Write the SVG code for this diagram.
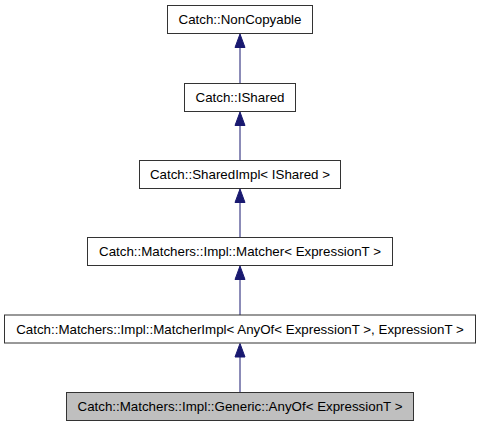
<svg xmlns="http://www.w3.org/2000/svg" width="480" height="427" viewBox="0 0 480 427">
<style>
.box{fill:#ffffff;stroke:#333333;stroke-width:1}
.hl{fill:#bfbfbf}
.lbl{font-family:"Liberation Sans",Arial,sans-serif;font-size:13.33px;fill:#000000;text-anchor:middle}
.edge{stroke:#191970;stroke-width:1;fill:none}
.head{fill:#191970;stroke:#191970;stroke-width:1}
</style>
<rect width="480" height="427" fill="#ffffff"/>
<g id="connectors">
<line class="edge" x1="240" y1="83.5" x2="240" y2="47"/>
<polygon class="head" points="235,47.5 240,34 245,47.5"/>
<line class="edge" x1="240" y1="160.5" x2="240" y2="125"/>
<polygon class="head" points="235,125.5 240,112 245,125.5"/>
<line class="edge" x1="240" y1="237.5" x2="240" y2="202"/>
<polygon class="head" points="235,202.5 240,189 245,202.5"/>
<line class="edge" x1="240" y1="315" x2="240" y2="279"/>
<polygon class="head" points="235,279.5 240,266 245,279.5"/>
<line class="edge" x1="240" y1="392.5" x2="240" y2="357"/>
<polygon class="head" points="235,357 240,343.5 245,357"/>
</g>
<g id="node1">
<rect class="box" x="167.5" y="5.5" width="145" height="28"/>
<text class="lbl" x="240" y="24">Catch::NonCopyable</text>
</g>
<g id="node2">
<rect class="box" x="184.5" y="83.5" width="111" height="28"/>
<text class="lbl" x="240" y="102">Catch::IShared</text>
</g>
<g id="node3">
<rect class="box" x="139.5" y="160.5" width="201" height="28"/>
<text class="lbl" x="240" y="179">Catch::SharedImpl&lt; IShared &gt;</text>
</g>
<g id="node4">
<rect class="box" x="87.5" y="237.5" width="305" height="28"/>
<text class="lbl" x="240" y="256">Catch::Matchers::Impl::Matcher&lt; ExpressionT &gt;</text>
</g>
<g id="node5">
<rect class="box" x="4.5" y="315" width="471" height="28"/>
<text class="lbl" x="240" y="333.5">Catch::Matchers::Impl::MatcherImpl&lt; AnyOf&lt; ExpressionT &gt;, ExpressionT &gt;</text>
</g>
<g id="node6">
<rect class="box hl" x="66.5" y="392.5" width="347" height="28"/>
<text class="lbl" x="240" y="411">Catch::Matchers::Impl::Generic::AnyOf&lt; ExpressionT &gt;</text>
</g>
</svg>
